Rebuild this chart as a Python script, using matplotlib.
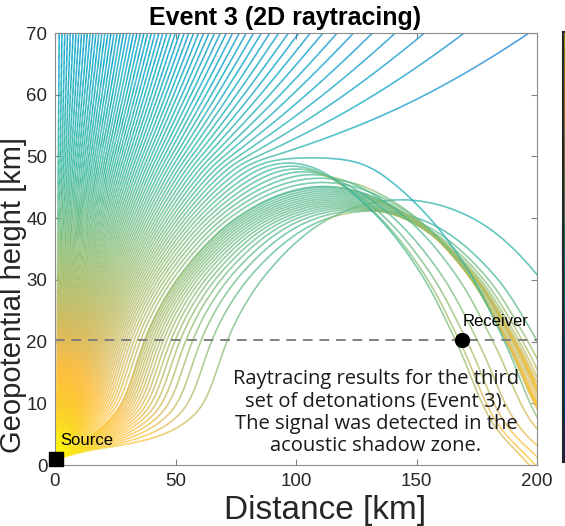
import numpy as np
import matplotlib
matplotlib.use("Agg")
import matplotlib.pyplot as plt
from matplotlib.collections import LineCollection
from matplotlib.colors import LinearSegmentedColormap, Normalize

# effective sound speed, as refractive index 340/c, near the source and near the receiver
alt_km = [-10, 0, 1, 2.2, 2.9, 3.6, 4.5, 5.5, 7, 8.5, 10, 13, 16, 19, 22, 26, 31, 36, 40,
          44, 47, 49.5, 55, 62, 70, 130]
n_source = [1.012, 1.012, 1.008, 1.002, 1.0, 1.002, 1.006, 1.015, 1.04, 1.08, 1.2, 1.45,
            1.55, 1.45, 1.3, 1.18, 1.09, 1.045, 1.005, 0.978, 0.955, 0.92, 0.925, 0.935,
            0.945, 1.0]
n_receiver = [1.012, 1.012, 1.008, 1.002, 1.0, 1.005, 1.02, 1.04, 1.09, 1.15, 1.22, 1.3,
              1.3, 1.22, 1.2, 1.18, 1.09, 1.045, 1.005, 0.978, 0.955, 0.92, 0.925, 0.935,
              0.945, 1.0]
blend_x = (70.0, 160.0)   # km, range over which the profile changes

# launch elevation angles [deg]: finer steps near the horizontal
launch_deg = np.r_[np.arange(7.8, 16.0, 0.5), np.arange(16.0, 90.0, 1.0)]

src_x, src_z = 0.6, 0.9
rcv_x, rcv_z = 168.9, 20.3
note = ("Raytracing results for the third\nset of detonations (Event 3).\n"
        "The signal was detected in the\nacoustic shadow zone.")

# parula (MATLAB) anchor colours
parula = [(0.2081, 0.1663, 0.5292), (0.0117, 0.3875, 0.8820), (0.0793, 0.5200, 0.8312),
          (0.0228, 0.6535, 0.7768), (0.2178, 0.7250, 0.6193), (0.5709, 0.7485, 0.4494),
          (0.8507, 0.7299, 0.3360), (0.9938, 0.7455, 0.2403), (0.9880, 0.8066, 0.1794),
          (0.9763, 0.9831, 0.0538)]
pos = [0, 8, 16, 24, 32, 40, 48, 52, 56, 63]
cmap = LinearSegmentedColormap.from_list("parula", [(p / 63, c) for p, c in zip(pos, parula)])

# colour scale: relative level [dB] -> colormap position
lvl_db = [-95, -81, -69, -50, -35, -22, -8, 0]
lvl_pos = [0.12, 0.23, 0.35, 0.52, 0.68, 0.83, 0.97, 1.0]

# smooth profiles on a fine grid (km/s)
zg = np.linspace(-10, 130, 1401)
ker = np.exp(-0.5 * (np.arange(-12, 13) * 0.1 / 0.4) ** 2)
ker /= ker.sum()


def smooth_profile(n):
    cg = np.interp(zg, alt_km, 0.34 / np.array(n))
    return np.convolve(np.pad(cg, 12, mode="edge"), ker, mode="valid")


c1 = smooth_profile(n_source)
c2 = smooth_profile(n_receiver)
dc1 = np.gradient(c1, zg)
dc2 = np.gradient(c2, zg)
span = blend_x[1] - blend_x[0]


def rhs(x, z, th):
    f = np.clip((x - blend_x[0]) / span, 0, 1)
    df = ((x > blend_x[0]) & (x < blend_x[1])) / span
    a1, a2 = np.interp(z, zg, c1), np.interp(z, zg, c2)
    g1 = np.interp(z, zg, dc1)
    c = a1 + f * (a2 - a1)
    dcz = g1 + f * (np.interp(z, zg, dc2) - g1)
    dcx = df * (a2 - a1)
    return c * np.cos(th), c * np.sin(th), -np.cos(th) * dcz + np.sin(th) * dcx


# ray tracing (time stepping, RK4)
th0 = np.radians(launch_deg)
th = th0.copy()
x = np.full_like(th, src_x)
z = np.full_like(th, src_z)
dt, nsteps = 0.5, 2600
X = [x.copy()]
Z = [z.copy()]
for _ in range(nsteps):
    k1 = rhs(x, z, th)
    k2 = rhs(x + 0.5 * dt * k1[0], z + 0.5 * dt * k1[1], th + 0.5 * dt * k1[2])
    k3 = rhs(x + 0.5 * dt * k2[0], z + 0.5 * dt * k2[1], th + 0.5 * dt * k2[2])
    k4 = rhs(x + dt * k3[0], z + dt * k3[1], th + dt * k3[2])
    x = x + dt / 6 * (k1[0] + 2 * k2[0] + 2 * k3[0] + k4[0])
    z = z + dt / 6 * (k1[1] + 2 * k2[1] + 2 * k3[1] + k4[1])
    th = th + dt / 6 * (k1[2] + 2 * k2[2] + 2 * k3[2] + k4[2])
    X.append(x.copy())
    Z.append(z.copy())
X = np.array(X)
Z = np.array(Z)

# relative level: density and ray tube spreading
w = np.hypot(np.gradient(X, th0, axis=1), np.gradient(Z, th0, axis=1))
level = -4.343 * Z / 6.0 - 10 * np.log10(w + 1e-6)
cpos = np.interp(level, lvl_db, lvl_pos)

segs = []
vals = []
for i in range(X.shape[1]):
    p = np.column_stack([X[:, i], Z[:, i]])
    s = np.stack([p[:-1], p[1:]], axis=1)
    a = 0.5 * (cpos[:-1, i] + cpos[1:, i])
    keep = (s[:, 0, 0] < 202) & (s[:, 0, 1] < 72) & (s[:, 0, 1] > -2)
    segs.append(s[keep])
    vals.append(a[keep])
segs = np.concatenate(segs)
vals = np.concatenate(vals)

fig = plt.figure(figsize=(5.65, 5.26), dpi=100)
ax = fig.add_axes([55 / 565, 61 / 526, 482 / 565, 432 / 526])

lc = LineCollection(segs, cmap=cmap, norm=Normalize(0, 1), linewidths=1.1)
lc.set_array(vals)
ax.add_collection(lc)

ax.axhline(rcv_z, color="0.5", lw=1.4, ls=(0, (5, 3.5)))
ax.plot(src_x, src_z, "s", color="k", ms=9.5, clip_on=False, zorder=5)
ax.plot(rcv_x, rcv_z, "o", color="k", ms=10, zorder=5)
ax.text(2.0, 3.9, "Source", fontsize=12, family="Liberation Sans", va="center")
ax.text(169.3, 23.2, "Receiver", fontsize=12, family="Liberation Sans", va="center")
ax.text(133.2, 8.45, note, fontsize=14.5, family="Open Sans", ha="center", va="center",
        linespacing=1.15, color="0.1")

ax.set_xlim(0, 200)
ax.set_ylim(0, 70)
ax.set_xticks([0, 50, 100, 150, 200])
ax.set_yticks(np.arange(0, 71, 10))
ax.tick_params(direction="in", top=True, right=True, labelsize=13.5, colors="0.5",
               labelcolor="0.15", length=4, pad=5.5)
for lab in ax.get_xticklabels() + ax.get_yticklabels():
    lab.set_family("Liberation Sans")
for sp in ax.spines.values():
    sp.set_color("0.55")
ax.set_xlabel("Distance [km]", fontsize=24, family="Liberation Sans", color="0.15")
ax.set_ylabel("Geopotential height [km]", fontsize=21, family="Liberation Sans", color="0.15")
ax.xaxis.set_label_coords(0.56, -0.07)
ax.yaxis.set_label_coords(-0.058, 0.394)
ax.set_title("Event 3 (2D raytracing)", fontsize=18, fontweight="bold",
             family="Liberation Sans", x=0.477, pad=6)

# colorbar, mostly outside the picture
cax = fig.add_axes([563 / 565, 64 / 526, 0.05, 430 / 526])
cax.set_facecolor("k")
cax.imshow(np.linspace(1, 0, 256)[:, None], aspect="auto", cmap=cmap, alpha=0.6)
cax.set_xticks([])
cax.set_yticks([])
for sp in cax.spines.values():
    sp.set_color("0.15")
    sp.set_linewidth(1.5)

fig.savefig("out.png", dpi=100)
